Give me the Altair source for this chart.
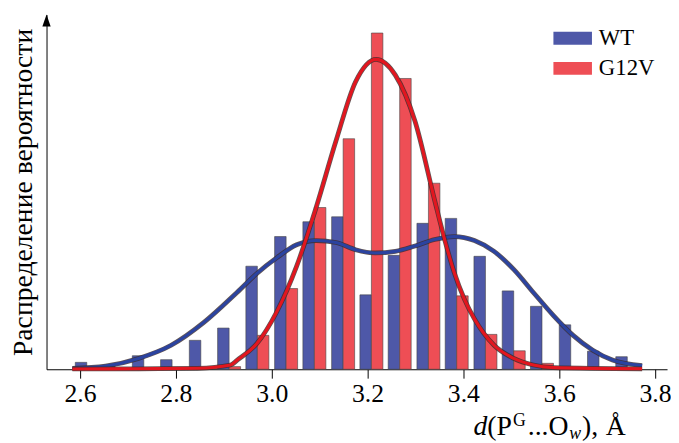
import altair as alt
import pandas as pd

# ---- data ----
bin_centers = [2.614, 2.673, 2.733, 2.792, 2.852, 2.911, 2.970, 3.030, 3.089, 3.149,
               3.208, 3.267, 3.327, 3.386, 3.446, 3.505, 3.564, 3.624, 3.683, 3.742]
wt_heights = [7, 4.3, 13.7, 9.7, 29.3, 41.7, 104.3, 134.3, 149.3, 154.3,
              75.3, 115.3, 147.7, 152.7, 114.3, 79.3, 63.7, 45, 18.3, 12.7]
g12v_heights = [0, 0, 0, 0, 0, 2.7, 34.3, 81.7, 163.7, 233.3,
                340.3, 294.3, 188.3, 74.3, 35.3, 18.7, 6, 2, 0, 0]

wt_curve_x = [2.584, 2.653, 2.722, 2.790, 2.859, 2.928, 2.969, 3.010, 3.052, 3.093,
              3.134, 3.175, 3.216, 3.258, 3.299, 3.340, 3.381, 3.423, 3.464, 3.505,
              3.546, 3.588, 3.629, 3.670, 3.711, 3.773]
wt_curve_y = [1, 3.3, 11, 24.3, 47.7, 78, 97, 112.7, 126, 130.3,
              128.3, 121, 117.7, 119.3, 124.7, 131.3, 134.3, 130.3, 119.3, 101,
              77.7, 54.3, 34.3, 19.3, 9.3, 3.7]
g12v_curve_x = [2.584, 2.722, 2.845, 2.914, 2.928, 2.969, 3.010, 3.052, 3.093, 3.134,
                3.175, 3.218, 3.258, 3.299, 3.340, 3.361, 3.381, 3.402, 3.423, 3.464,
                3.505, 3.546, 3.588, 3.773]
g12v_curve_y = [0.3, 0.5, 1, 4.3, 9.3, 26, 57.7, 104.3, 164.3, 231,
                291, 313.7, 297.7, 251, 171, 131, 97.7, 71, 51, 24.3,
                11, 4.3, 1.7, 0.5]

series_names = ["WT", "G12V"]
x_ticks = [2.6, 2.8, 3.0, 3.2, 3.4, 3.6, 3.8]

# ---- styling ----
BLUE_BAR = "#4E58A8"
RED_BAR = "#EE4E55"
BLUE_LINE = "#2B43A0"
RED_LINE = "#E2161F"
SERIF = "Liberation Serif"
W, H = 628, 359
BAR_W = 0.024

rows = []
for c, v in zip(bin_centers, wt_heights):
    rows.append({"series": "WT", "x1": c - BAR_W, "x2": c, "value": v})
for c, v in zip(bin_centers, g12v_heights):
    rows.append({"series": "G12V", "x1": c, "x2": c + BAR_W, "value": v})
bars_df = pd.DataFrame(rows)

wt_curve = pd.DataFrame({"x": wt_curve_x, "y": wt_curve_y})
g12v_curve = pd.DataFrame({"x": g12v_curve_x, "y": g12v_curve_y})

xscale = alt.Scale(domain=[2.53, 3.825], nice=False, zero=False)
yscale = alt.Scale(domain=[0, H], nice=False, zero=True)

x_axis = alt.Axis(values=x_ticks, format=".1f", title=None)
y_axis = alt.Axis(ticks=False, labels=False, title="Распределение вероятности")

bars = alt.Chart(bars_df).mark_bar(stroke="#444444", strokeWidth=0.6).encode(
    x=alt.X("x1:Q", scale=xscale, axis=x_axis),
    x2="x2:Q",
    y=alt.Y("value:Q", scale=yscale, axis=y_axis),
    y2=alt.datum(0),
    color=alt.Color("series:N",
                    scale=alt.Scale(domain=series_names, range=[BLUE_BAR, RED_BAR]),
                    legend=alt.Legend(orient="none", legendX=521, legendY=12.5, title=None)),
)


def curve(df, color):
    base = alt.Chart(df).encode(
        x=alt.X("x:Q", scale=xscale, axis=x_axis),
        y=alt.Y("y:Q", scale=yscale, axis=y_axis),
    )
    outline = base.mark_line(interpolate="monotone", strokeWidth=4.8, color="#3a2a2a", opacity=0.8)
    inner = base.mark_line(interpolate="monotone", strokeWidth=3.2, color=color)
    return outline + inner


arrow = alt.Chart(pd.DataFrame({"a": [0]})).mark_point(
    shape="M0,-1L0.7,1L-0.7,1Z", size=144, filled=True, color="black", opacity=1
).encode(x=alt.value(0), y=alt.value(6))


def txt(s, x, y, size=28, style="normal"):
    return alt.Chart(pd.DataFrame({"a": [0]})).mark_text(
        text=s, font=SERIF, fontSize=size, fontStyle=style, align="left",
        baseline="alphabetic", color="black"
    ).encode(x=alt.value(x), y=alt.value(y))


ox, oy = 47, 12
title_parts = (
    txt("d", 479 - ox, 438 - oy, style="italic")
    + txt("(P", 493 - ox, 438 - oy)
    + txt("G", 519 - ox, 428 - oy, size=18)
    + txt("...O", 534 - ox, 438 - oy)
    + txt("w", 576 - ox, 442 - oy, size=18, style="italic")
    + txt("),", 589 - ox, 438 - oy)
    + txt("Å", 613 - ox, 438 - oy)
)

chart = alt.layer(
    bars, curve(wt_curve, BLUE_LINE), curve(g12v_curve, RED_LINE), arrow, title_parts
).properties(
    width=W, height=H,
    autosize=alt.AutoSizeParams(type="none"),
    padding={"left": 39, "top": 4, "right": 4, "bottom": 72},
    background="white",
).configure_view(
    stroke=None
).configure_axis(
    labelFont=SERIF, titleFont=SERIF, labelColor="black", titleColor="black",
    domainColor="black", domainWidth=1, tickColor="black", tickWidth=1, grid=False,
).configure_axisX(
    labelFontSize=26, tickSize=9, labelPadding=3,
).configure_axisY(
    titleFontSize=28, titleFontWeight="normal", titlePadding=9,
).configure_legend(
    labelFont=SERIF, labelFontSize=23, labelColor="black",
    symbolType="M-3,-1H3V1H-3Z", symbolSize=169, symbolStrokeWidth=0,
    labelOffset=15, rowPadding=6.5, padding=0,
)

chart.save("out.html", embed_options={"renderer": "svg", "actions": False})
